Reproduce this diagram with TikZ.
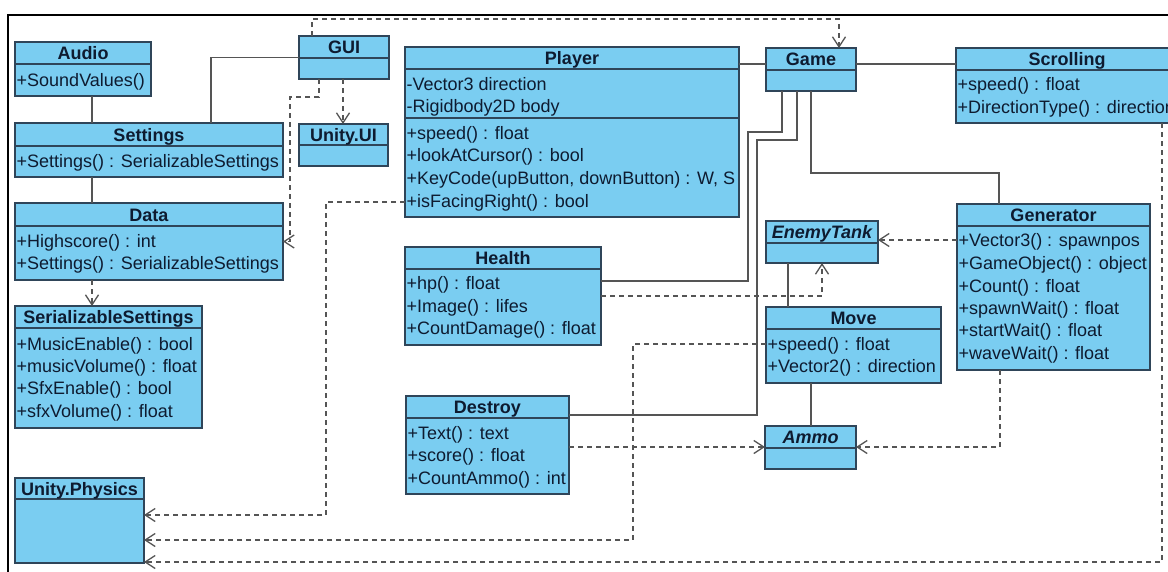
\documentclass[tikz,border=0pt]{standalone}
\usepackage{fontspec}
\setmainfont{Liberation Sans}
\usetikzlibrary{arrows.meta,fit}
\definecolor{boxfill}{HTML}{7ACDF1}
\definecolor{boxline}{HTML}{2F4559}
\definecolor{txtcol}{HTML}{0E1B30}
\definecolor{conn}{HTML}{555555}
\tikzset{
  cls/.style={draw=boxline, fill=boxfill, line width=1.3pt, inner sep=0pt, outer sep=0pt},
  divline/.style={draw=boxline, line width=1.3pt},
  ttl/.style={font=\fontsize{18}{21}\selectfont\bfseries, text=txtcol, inner sep=0pt},
  ittl/.style={font=\fontsize{18}{21}\selectfont\bfseries\itshape, text=txtcol, inner sep=0pt},
  row/.style={font=\fontsize{18}{21}\selectfont, text=txtcol, inner sep=0pt},
  assoc/.style={draw=conn, line width=1.3pt},
  dep/.style={draw=conn, line width=1.3pt, dash pattern=on 5pt off 4pt,
    -{Straight Barb[length=10pt,width=13pt,line width=1.3pt]}},
  frame/.style={draw=black, line width=2pt},
}
% name, x1, y1, x2, y2, divider y, title, title style
\newcommand\umlcls[8]{%
  \node[cls, fit={(#2,#3) (#4,#5)}] (#1) {};
  \draw[divline] (#1.west |- 0,#6) -- (#1.east |- 0,#6);
  \node[#8, anchor=base] (#1-t) at ({(#2+#4)/2},{(#3+#6)/2+6.5}) {#7};
}
\newcommand\umlrow[4]{%
  \node[row, anchor=base west] (#1) at (#2,#3+6.5) {#4};
}
\begin{document}
\begin{tikzpicture}[x=1pt,y=-1pt]
\path[use as bounding box] (0,0) rectangle (1168,571);
\clip (0,0) rectangle (1168,571);
\fill[white] (0,0) rectangle (1168,571);
\draw[frame] (8,572) -- (8,15) -- (1170,15);

% classes
\umlcls{audio}{15}{42}{151}{96}{64}{Audio}{ttl}
\umlrow{audio-1}{16.5}{80}{+SoundValues()}

\umlcls{gui}{299}{36}{389}{79}{58}{GUI}{ttl}
\umlcls{unityui}{299}{124}{388}{166}{145}{Unity.UI}{ttl}

\umlcls{settings}{15}{123}{283}{177}{146}{Settings}{ttl}
\umlrow{settings-1}{16.5}{161}{+Settings() : SerializableSettings}

\umlcls{data}{15}{203}{283}{280}{226}{Data}{ttl}
\umlrow{data-1}{16.5}{241}{+Highscore() : int}
\umlrow{data-2}{16.5}{263}{+Settings() : SerializableSettings}

\umlcls{serial}{15}{306}{202}{428}{328}{SerializableSettings}{ttl}
\umlrow{serial-1}{16.5}{344}{+MusicEnable() : bool}
\umlrow{serial-2}{16.5}{366}{+musicVolume() : float}
\umlrow{serial-3}{16.5}{388}{+SfxEnable() : bool}
\umlrow{serial-4}{16.5}{411}{+sfxVolume() : float}

\umlcls{physics}{15}{478}{144}{563}{499}{Unity.Physics}{ttl}

\umlcls{player}{405}{47}{739}{217}{69}{Player}{ttl}
\draw[divline] (player.west |- 0,118) -- (player.east |- 0,118);
\umlrow{player-1}{406.5}{84}{-Vector3 direction}
\umlrow{player-2}{406.5}{106}{-Rigidbody2D body}
\umlrow{player-3}{406.5}{133}{+speed() : float}
\umlrow{player-4}{406.5}{155}{+lookAtCursor() : bool}
\umlrow{player-5}{406.5}{178}{+KeyCode(upButton, downButton) : W, S}
\umlrow{player-6}{406.5}{201}{+isFacingRight() : bool}

\umlcls{game}{766}{48}{856}{91}{70}{Game}{ttl}

\umlcls{scrolling}{956}{48}{1178}{123}{70}{Scrolling}{ttl}
\umlrow{scrolling-1}{957.5}{84}{+speed() : float}
\umlrow{scrolling-2}{957.5}{107}{+DirectionType() : direction}

\umlcls{health}{405}{247}{601}{345}{269}{Health}{ttl}
\umlrow{health-1}{406.5}{283}{+hp() : float}
\umlrow{health-2}{406.5}{306}{+Image() : lifes}
\umlrow{health-3}{406.5}{328}{+CountDamage() : float}

\umlcls{destroy}{406}{396}{569}{494}{418}{Destroy}{ttl}
\umlrow{destroy-1}{407.5}{433}{+Text() : text}
\umlrow{destroy-2}{407.5}{455}{+score() : float}
\umlrow{destroy-3}{407.5}{478}{+CountAmmo() : int}

\umlcls{enemytank}{766}{221}{878}{263}{243}{EnemyTank}{ittl}

\umlcls{move}{766}{307}{941}{383}{329}{Move}{ttl}
\umlrow{move-1}{767.5}{344}{+speed() : float}
\umlrow{move-2}{767.5}{366}{+Vector2() : direction}

\umlcls{ammo}{765}{426}{856}{469}{448}{Ammo}{ittl}

\umlcls{generator}{957}{204}{1150}{370}{226}{Generator}{ttl}
\umlrow{generator-1}{958.5}{240}{+Vector3() : spawnpos}
\umlrow{generator-2}{958.5}{263}{+GameObject() : object}
\umlrow{generator-3}{958.5}{286}{+Count() : float}
\umlrow{generator-4}{958.5}{308}{+spawnWait() : float}
\umlrow{generator-5}{958.5}{330}{+startWait() : float}
\umlrow{generator-6}{958.5}{353}{+waveWait() : float}

% associations
\draw[assoc] (92,0 |- audio.south) -- (92,0 |- settings.north);
\draw[assoc] (92,0 |- settings.south) -- (92,0 |- data.north);
\draw[assoc] (gui.west) -| (211,0 |- settings.north);
\draw[assoc] (player.east |- 0,64) -- (game.west |- 0,64);
\draw[assoc] (game.east |- 0,64) -- (scrolling.west |- 0,64);
\draw[assoc] (health.east |- 0,281) -| (748,132) -| (782,0 |- game.south);
\draw[assoc] (destroy.east |- 0,415) -| (757,140) -| (797,0 |- game.south);
\draw[assoc] (811,0 |- game.south) |- (999,173) -- (999,0 |- generator.north);
\draw[assoc] (788,0 |- enemytank.south) -- (788,0 |- move.north);
\draw[assoc] (811,0 |- move.south) -- (811,0 |- ammo.north);

% dependencies
\draw[dep] (312,0 |- gui.north) |- (839,19) -- (839,0 |- game.north);
\draw[dep] (343,0 |- gui.south) -- (343,0 |- unityui.north);
\draw[dep] (319,0 |- gui.south) |- (290,97) |- (data.east);
\draw[dep] (92,0 |- data.south) -- (92,0 |- serial.north);
\draw[dep] (player.west |- 0,202) -| (326,515) -- (physics.east |- 0,515);
\draw[dep] (move.west |- 0,344) -| (633,540) -- (physics.east |- 0,540);
\draw[dep] (1162,0 |- scrolling.south) |- (physics.east |- 0,562);
\draw[dep] (health.east |- 0,296) -| (822,0 |- enemytank.south);
\draw[dep] (generator.west |- 0,240) -- (enemytank.east |- 0,240);
\draw[dep] (destroy.east |- 0,447) -- (ammo.west |- 0,447);
\draw[dep] (1000,0 |- generator.south) |- (ammo.east |- 0,447);
\end{tikzpicture}
\end{document}
